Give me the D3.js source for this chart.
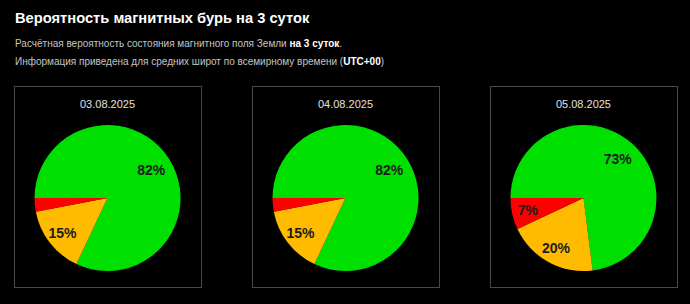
<!DOCTYPE html>
<html>
<head>
<meta charset="utf-8">
<title>Вероятность магнитных бурь</title>
<script src="https://cdn.jsdelivr.net/npm/d3@7"></script>
<style>
body { margin: 0; background: #000; }
text { font-family: Arial, "Liberation Sans", sans-serif; }
</style>
</head>
<body>
<script>
// data
var dates = ["03.08.2025", "04.08.2025", "05.08.2025"];
var quiet = [82, 82, 73];   // green
var minor = [15, 15, 20];   // yellow
var storm = [3, 3, 7];      // red
var sliceColors = ["#00e000", "#ffbb00", "#ff0000"];

var width = 690, height = 304;

var svg = d3.select("body").append("svg")
  .attr("width", width).attr("height", height)
  .style("background", "#000");

// header
svg.append("text").attr("x", 15).attr("y", 23)
  .attr("fill", "#fff").attr("font-size", "14.7px").attr("font-weight", "bold")
  .text("Вероятность магнитных бурь на 3 суток");

var l1 = svg.append("text").attr("x", 15).attr("y", 47)
  .attr("fill", "#c4c4c4").attr("font-size", "10px");
l1.append("tspan").text("Расчётная вероятность состояния магнитного поля Земли ");
l1.append("tspan").attr("font-weight", "bold").attr("fill", "#fff").text("на 3 суток");
l1.append("tspan").text(".");

var l2 = svg.append("text").attr("x", 15).attr("y", 65)
  .attr("fill", "#c4c4c4").attr("font-size", "10px");
l2.append("tspan").text("Информация приведена для средних широт по всемирному времени (");
l2.append("tspan").attr("font-weight", "bold").attr("fill", "#fff").text("UTC+00");
l2.append("tspan").text(")");

// panel layout
var x = d3.scaleBand().domain(dates).range([14, 677]).paddingInner(0.214);
var boxTop = 86, boxH = 201, r = 73;

var pie = d3.pie().sort(null).value(function(d){ return d; })
  .startAngle(1.5 * Math.PI).endAngle(3.5 * Math.PI);
var arc = d3.arc().innerRadius(0).outerRadius(r);

function labelPos(d) {
  var k = d.value > 50 ? 0.71 : 0.78;
  return d3.arc().innerRadius(r * k).outerRadius(r * k).centroid(d);
}

dates.forEach(function(day, i) {
  var g = svg.append("g").attr("transform", "translate(" + x(day) + "," + boxTop + ")");
  var w = x.bandwidth();

  g.append("rect").attr("x", 0.5).attr("y", 0.5)
    .attr("width", w).attr("height", boxH)
    .attr("fill", "none").attr("stroke", "#4a4a4a").attr("stroke-width", 1);

  g.append("text").attr("x", w / 2).attr("y", 22)
    .attr("text-anchor", "middle").attr("fill", "#e0e0e0").attr("font-size", "11px")
    .text(day);

  var pg = g.append("g").attr("transform", "translate(" + (w / 2) + ",112)");
  var arcs = pie([quiet[i], minor[i], storm[i]]);

  pg.selectAll("path").data(arcs).enter().append("path")
    .attr("d", arc)
    .attr("fill", function(d, k){ return sliceColors[k]; });

  pg.selectAll("text").data(arcs.filter(function(d){ return d.value >= 5; }))
    .enter().append("text")
    .attr("transform", function(d){ return "translate(" + labelPos(d) + ")"; })
    .attr("text-anchor", "middle").attr("dy", "0.36em")
    .attr("fill", "#1c1c1c").attr("font-size", "14px").attr("font-weight", "bold")
    .text(function(d){ return d.value + "%"; });
});
</script>
</body>
</html>
